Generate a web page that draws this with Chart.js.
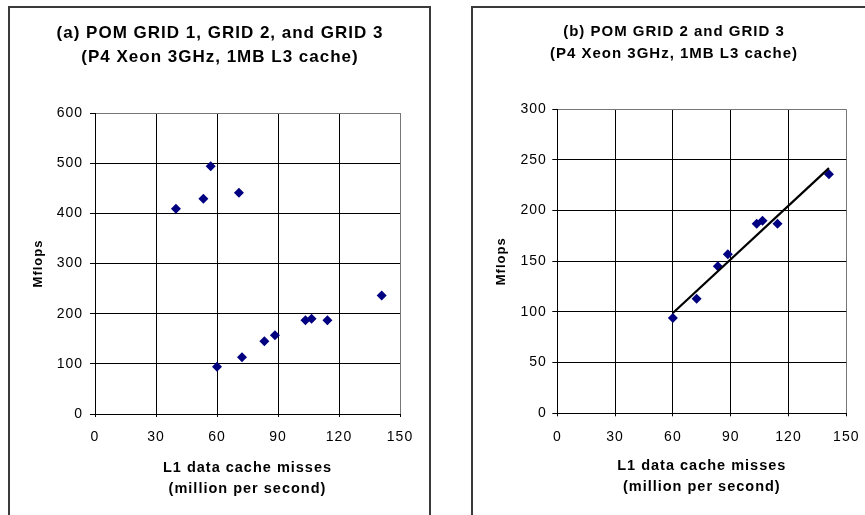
<!DOCTYPE html>
<html>
<head>
<meta charset="utf-8">
<script src="https://cdn.jsdelivr.net/npm/chart.js@4/dist/chart.umd.min.js"></script>
<style>
  body { margin: 0; background: #fff; width: 865px; height: 515px; overflow: hidden; position: relative; }
  .frame { position: absolute; box-sizing: border-box; border: 2px solid #3a3a3a; background: #fff; }
  canvas { position: absolute; top: 0; }
</style>
</head>
<body>
<div class="frame" style="left:8px; top:6px; width:423px; height:530px;"></div>
<div class="frame" style="left:471px; top:6px; width:420px; height:530px;"></div>
<canvas id="chartA" width="432" height="515" style="left:0px"></canvas>
<canvas id="chartB" width="433" height="515" style="left:432px"></canvas>
<script>
// POM GRID 1 runs
var grid1Misses = [39.8, 53.3, 56.9, 70.8];
var grid1Mflops = [409, 429, 494, 441];
// POM GRID 2 and GRID 3 runs
var grid23Misses = [60, 72.3, 83.3, 88.5, 103.5, 106.5, 114.3, 141];
var grid23Mflops = [94, 113, 145, 157, 187, 190, 187, 236];
// linear trend drawn on panel (b), end points
var trendMisses = [60, 141];
var trendMflops = [99, 242];

var xTicks = [0, 30, 60, 90, 120, 150];

function points(xs, ys) {
    return xs.map(function (x, i) { return { x: x, y: ys[i] }; });
}

Chart.defaults.font.family = '"Liberation Sans", Arial, sans-serif';
Chart.defaults.color = '#000';

// Excel-ish text: a bit of tracking on every label
var spacing = {
    id: 'spacing',
    beforeUpdate: function (chart, args, opts) { chart.ctx.letterSpacing = opts.value; },
    beforeDraw: function (chart, args, opts) { chart.ctx.letterSpacing = opts.value; }
};

var markerStyle = {
    pointStyle: 'rectRot',
    pointRadius: 5,
    pointBorderWidth: 0,
    backgroundColor: '#000080',
    borderColor: '#000080'
};

function makeChart(id, cfg) {
    var ctx = document.getElementById(id).getContext('2d');
    return new Chart(ctx, {
        type: 'scatter',
        data: { datasets: cfg.datasets },
        plugins: [spacing],
        options: {
            responsive: false,
            animation: false,
            layout: { padding: cfg.padding },
            plugins: {
                spacing: { value: cfg.spacing },
                legend: { display: false },
                tooltip: { enabled: false },
                title: {
                    display: true,
                    text: cfg.title,
                    color: '#000',
                    font: { size: cfg.titleSize, weight: 'bold', lineHeight: cfg.titleLine },
                    padding: cfg.titlePad
                }
            },
            scales: {
                x: {
                    type: 'linear',
                    min: 0,
                    max: 150,
                    afterBuildTicks: function (s) { s.ticks = xTicks.map(function (v) { return { value: v }; }); },
                    afterFit: function (s) {
                        s.height = cfg.xHeight;
                        s.paddingLeft = 0;
                        s.paddingRight = 0;
                    },
                    ticks: { padding: cfg.xTickPad, font: { size: 14 }, color: '#000' },
                    grid: {
                        color: function (c) { return c.tick && c.tick.value === 150 ? '#777' : '#000'; },
                        tickLength: 3,
                        tickColor: '#000'
                    },
                    border: { color: '#000' },
                    title: {
                        display: true,
                        text: ['L1 data cache misses', '(million per second)'],
                        font: { size: 14.5, weight: 'bold', lineHeight: 21 / 14.5 },
                        padding: { top: 0, bottom: cfg.xTitlePad }
                    }
                },
                y: {
                    min: 0,
                    max: cfg.yMax,
                    afterFit: function (s) { s.width = cfg.yWidth; },
                    ticks: { stepSize: cfg.yStep, padding: cfg.yTickPad, font: { size: 14 }, color: '#000' },
                    grid: {
                        color: function (c) { return c.tick && c.tick.value === cfg.yMax ? '#777' : '#000'; },
                        tickLength: 5,
                        tickColor: '#000'
                    },
                    border: { color: '#000' },
                    title: {
                        display: true,
                        text: 'Mflops',
                        font: { size: 13, weight: 'bold', lineHeight: 1.2 },
                        padding: { top: cfg.yTitlePad, bottom: 0 }
                    }
                }
            }
        }
    });
}

makeChart('chartA', {
    datasets: [Object.assign({
        label: 'POM GRID 1, GRID 2, GRID 3',
        data: points(grid1Misses.concat(grid23Misses), grid1Mflops.concat(grid23Mflops))
    }, markerStyle)],
    title: ['(a) POM GRID 1, GRID 2, and GRID 3', '(P4 Xeon 3GHz, 1MB L3 cache)'],
    titleSize: 17,
    titleLine: 24 / 17,
    titlePad: { top: 21, bottom: 44 },
    padding: { left: 40, right: 32, top: 0, bottom: 0 },
    spacing: '1px',
    yMax: 600,
    yStep: 100,
    yWidth: 55,
    xHeight: 101,
    xTickPad: 12,
    yTickPad: 7,
    xTitlePad: 15.5,
    yTitlePad: -9.8
});

makeChart('chartB', {
    datasets: [{
        label: 'Linear trend',
        data: points(trendMisses, trendMflops),
        showLine: true,
        borderColor: '#000',
        borderWidth: 2.2,
        pointRadius: 0
    }, Object.assign({
        label: 'POM GRID 2, GRID 3',
        data: points(grid23Misses, grid23Mflops)
    }, markerStyle)],
    title: ['(b) POM GRID 2 and GRID 3', '(P4 Xeon 3GHz, 1MB L3 cache)'],
    titleSize: 15,
    titleLine: 22 / 15,
    titlePad: { top: 20.7, bottom: 44.6 },
    padding: { left: 69.7, right: 18.7, top: 0, bottom: 0 },
    spacing: '1px',
    yMax: 300,
    yStep: 50,
    yWidth: 55.6,
    xHeight: 101.7,
    xTickPad: 12.5,
    yTickPad: 5.5,
    xTitlePad: 17.2,
    yTitlePad: -8.5
});
</script>
</body>
</html>
